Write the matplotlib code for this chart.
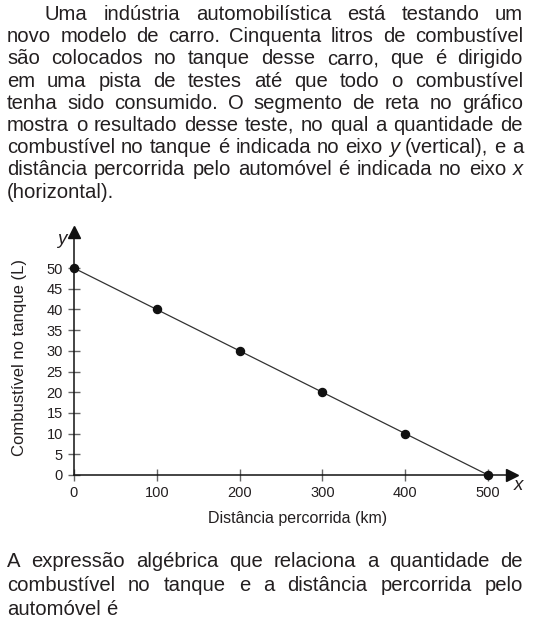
import matplotlib
matplotlib.use("Agg")
import matplotlib.pyplot as plt

plt.rcParams['font.family'] = ['Liberation Sans', 'DejaVu Sans']

TEXT_COLOR = '#231f20'

# chart data
distance_km = [0, 100, 200, 300, 400, 500]
fuel_l = [50, 40, 30, 20, 10, 0]
x_ticks = [0, 100, 200, 300, 400, 500]
y_ticks = [0, 5, 10, 15, 20, 25, 30, 35, 40, 45, 50]

# text above and below the chart, one string per printed line
# (a leading * marks an italic word)
top_lines = [
    "Uma indústria automobilística está testando um",
    "novo modelo de carro. Cinquenta litros de combustível",
    "são colocados no tanque desse carro, que é dirigido",
    "em uma pista de testes até que todo o combustível",
    "tenha sido consumido. O segmento de reta no gráfico",
    "mostra o resultado desse teste, no qual a quantidade de",
    "combustível no tanque é indicada no eixo *y (vertical), e a",
    "distância percorrida pelo automóvel é indicada no eixo *x",
    "(horizontal).",
]
bottom_lines = [
    "A expressão algébrica que relaciona a quantidade de",
    "combustível no tanque e a distância percorrida pelo",
    "automóvel é",
]

W, H = 538, 633
fig = plt.figure(figsize=(W / 100, H / 100), dpi=100)
renderer = fig.canvas.get_renderer()
FS = 14.6


def fx(px):
    return px / W


def fy(py):
    return 1 - py / H


def write_line(line, x0, x1, base_py, justify=True):
    """place words one by one so the line fills x0..x1 like the book"""
    items = []
    for w in line.split(' '):
        style = 'normal'
        if w.startswith('*'):
            w, style = w[1:], 'italic'
        t = fig.text(fx(x0), fy(base_py), w, fontsize=FS, style=style,
                     color=TEXT_COLOR, va='baseline', ha='left')
        items.append(t)
    widths = [t.get_window_extent(renderer).width for t in items]
    if justify and len(items) > 1:
        gap = (x1 - x0 - sum(widths)) / (len(items) - 1)
    else:
        gap = FS * 100 / 72 * 0.278
    pos = x0
    for t, w in zip(items, widths):
        t.set_x(fx(pos))
        pos += w + gap


for i, line in enumerate(top_lines):
    left = 45 if i == 0 else 7
    write_line(line, left, 523, 20 + 22.2 * i, justify=(i < len(top_lines) - 1))

for i, line in enumerate(bottom_lines):
    write_line(line, 7, 523, 567 + 24 * i, justify=(i < len(bottom_lines) - 1))

# chart
ax = fig.add_axes([fx(60), fy(482), fx(525) - fx(60), fy(228) - fy(482)])
ax.set_xlim(-16.9, 544.7)
ax.set_ylim(-1.7, 59.7)
ax.patch.set_alpha(0)
for s in ['top', 'right']:
    ax.spines[s].set_visible(False)
ax.spines['left'].set_position(('data', 0))
ax.spines['bottom'].set_position(('data', 0))
ax.spines['left'].set_bounds(0, 58.5)
ax.spines['bottom'].set_bounds(0, 528)
for s in ['left', 'bottom']:
    ax.spines[s].set_linewidth(1.1)
    ax.spines[s].set_color('#111111')
ax.plot([529], [0], marker='>', color='#111111', markersize=8, clip_on=False)
ax.plot([0], [58.8], marker='^', color='#111111', markersize=8, clip_on=False)

ax.set_xticks(x_ticks)
ax.set_yticks(y_ticks)
ax.tick_params(direction='inout', length=8, width=1, color='#666666',
               labelsize=10.5, labelcolor=TEXT_COLOR, pad=4)

ax.plot(distance_km, fuel_l, color='#333333', linewidth=0.9, zorder=3)
ax.plot(distance_km, fuel_l, 'o', color='#111111', markersize=5.8,
        zorder=4, clip_on=False)

fig.text(fx(298), fy(518), 'Distância percorrida (km)', fontsize=11.5,
         color=TEXT_COLOR, ha='center', va='center')
fig.text(fx(20), fy(358), 'Combustível no tanque (L)', fontsize=12,
         color=TEXT_COLOR, ha='center', va='center', rotation=90)

fig.text(fx(62), fy(239), 'y', fontsize=13.5, style='italic',
         color=TEXT_COLOR, ha='center', va='center')
fig.text(fx(518), fy(486), 'x', fontsize=13.5, style='italic',
         color=TEXT_COLOR, ha='center', va='center')

fig.savefig('out.png', dpi=100, facecolor='white')
